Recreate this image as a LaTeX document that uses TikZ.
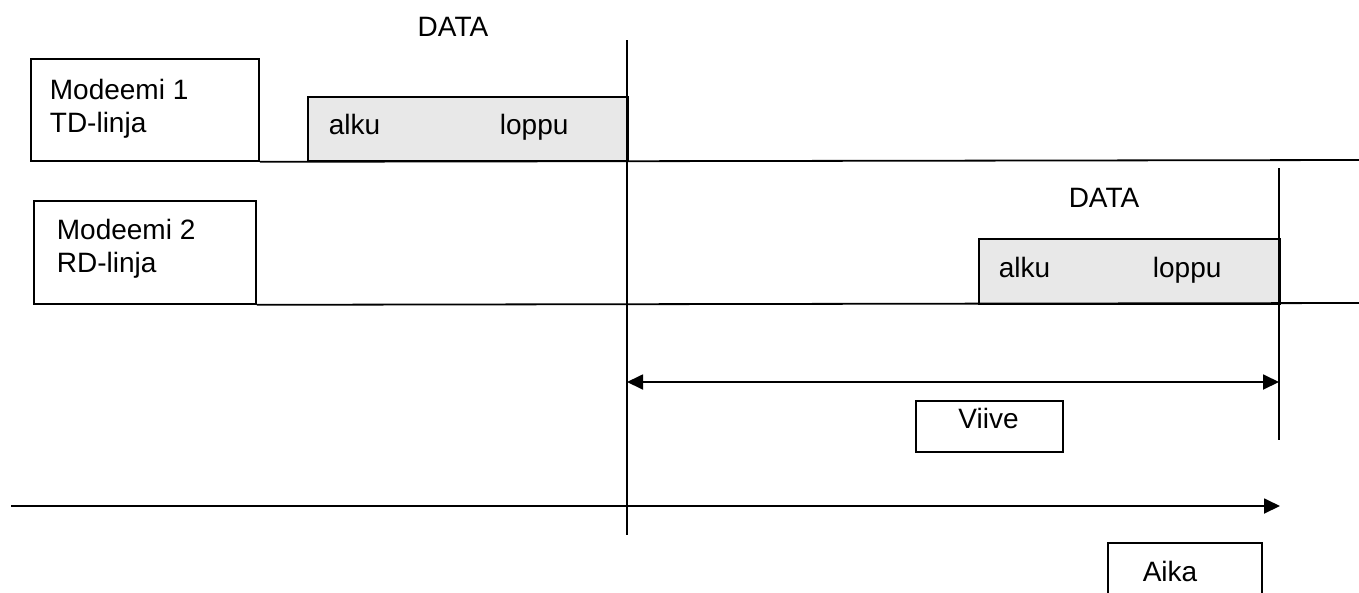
\documentclass[tikz,border=0pt]{standalone}
\usepackage{fontspec}
\setmainfont{Liberation Sans}
\usetikzlibrary{arrows.meta}
\begin{document}
\begin{tikzpicture}[x=1pt,y=-1pt,line width=1.8pt,
  lbl/.style={font=\fontsize{28}{33}\selectfont,inner sep=0pt},
  frame/.style={draw,line width=1.8pt,inner sep=0pt},
  databox/.style={frame,fill=black!9},
  tip/.style={-{Triangle[length=16pt,width=15pt]}},
  dtip/.style={{Triangle[length=16pt,width=15pt]}-{Triangle[length=16pt,width=15pt]}}
]
\useasboundingbox (0,0) rectangle (1359,592);
\fill[white] (0,0) rectangle (1359,592);
\clip (0,0) rectangle (1359,592);

% modem 1
\node[frame,anchor=north west,minimum width=228pt,minimum height=102pt] (m1) at (30,58) {};
\node[lbl,anchor=north west,align=left] (m1t) at (49,78) {Modeemi 1\\TD-linja};
\node[databox,anchor=north west,minimum width=320pt,minimum height=64pt] (g1) at (307,96) {};
\node[lbl,anchor=base west] (a1) at (328,134) {alku};
\node[lbl,anchor=base west] (l1) at (499,134) {loppu};
\node[lbl,anchor=base] (d1) at (453,36) {DATA};
\coordinate (td) at (1359,160);
\draw (m1.south east) -- (td);

% modem 2
\node[frame,anchor=north west,minimum width=222pt,minimum height=103pt] (m2) at (33,200) {};
\node[lbl,anchor=north west,align=left] (m2t) at (56,218) {Modeemi 2\\RD-linja};
\node[databox,anchor=north west,minimum width=301pt,minimum height=65pt] (g2) at (978,238) {};
\node[lbl,anchor=base west] (a2) at (998,277) {alku};
\node[lbl,anchor=base west] (l2) at (1152,277) {loppu};
\node[lbl,anchor=base] (d2) at (1104,207) {DATA};
\coordinate (rd) at (1359,303);
\draw (m2.south east) -- (rd);

% vertical markers
\coordinate (v1t) at (627,40);
\coordinate (v1b) at (627,535);
\draw (v1t) -- (v1b);
\coordinate (v2t) at (1279,168);
\coordinate (v2b) at (1279,440);
\draw (v2t) -- (v2b);

% delay
\coordinate (vl) at (627,382);
\coordinate (vr) at (1279,382);
\draw[dtip] (vl) -- (vr);
\node[frame,anchor=north west,minimum width=147pt,minimum height=51pt] (viive) at (915,400) {};
\node[lbl,anchor=base] (viivet) at (988.5,428) {Viive};

% time axis
\coordinate (t0) at (11,506);
\coordinate (t1) at (1280,506);
\draw[tip] (t0) -- (t1);
\node[frame,anchor=north west,minimum width=154pt,minimum height=70pt] (aika) at (1107,542) {};
\node[lbl,anchor=base] (aikat) at (1170,581) {Aika};
\end{tikzpicture}
\end{document}
